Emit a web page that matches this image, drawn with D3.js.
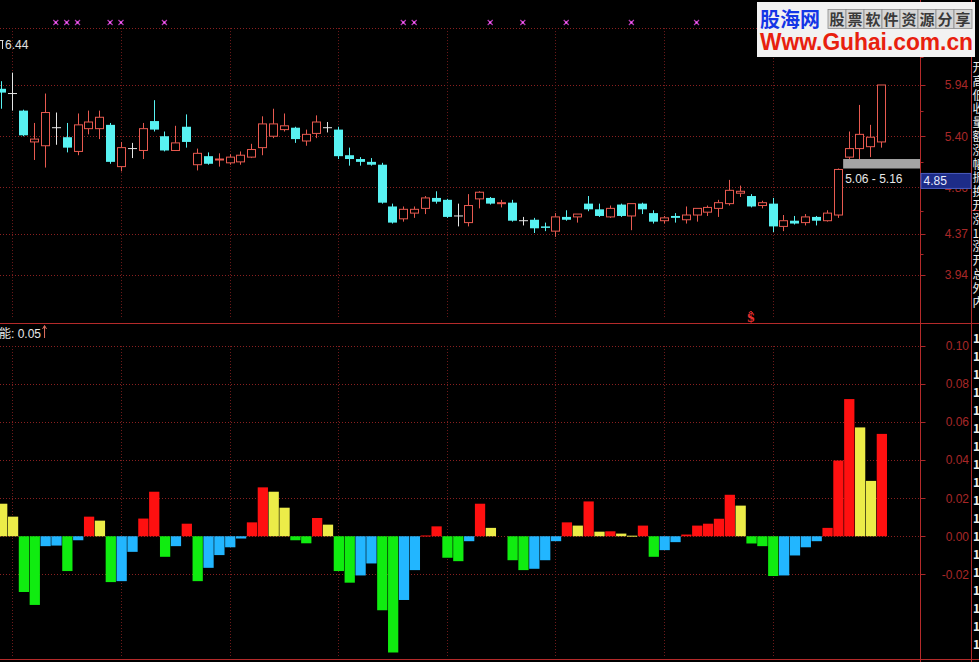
<!DOCTYPE html>
<html><head><meta charset="utf-8">
<script src="https://cdn.jsdelivr.net/npm/d3@7"></script>
<style>html,body{margin:0;padding:0;background:#000;overflow:hidden}svg{display:block}</style>
</head><body>
<svg id="c" width="979" height="662"></svg>
<script>
// ---------- data ----------
const opens  = [5.90,5.85,5.67,5.34,5.30,5.49,5.39,5.24,5.48,5.48, 5.52,5.08,5.27,5.25,5.56,5.40,5.25,5.50,5.10,5.19,
                5.15,5.12,5.13,5.18,5.28,5.40,5.47,5.49,5.35,5.43, 5.49,5.47,5.20,5.16,5.13,5.10,4.66,4.53,4.59,4.64,
                4.75,4.73,4.56,4.49,4.74,4.75,4.69,4.70,4.51,4.52, 4.45,4.40,4.55,4.55,4.69,4.63,4.55,4.68,4.56,4.69,
                4.59,4.51,4.56,4.52,4.57,4.60,4.64,4.69,4.80,4.77, 4.67,4.69,4.45,4.51,4.49,4.55,4.51,4.57,5.18,5.27,
                5.29,5.34];
const highs  = [5.98,6.07,5.68,5.54,5.85,5.65,5.54,5.64,5.67,5.67, 5.54,5.34,5.33,5.54,5.78,5.45,5.51,5.63,5.27,5.23,
                5.22,5.21,5.24,5.32,5.61,5.69,5.64,5.50,5.47,5.62, 5.55,5.50,5.28,5.18,5.17,5.12,4.69,4.66,4.66,4.77,
                4.82,4.74,4.69,4.79,4.82,4.76,4.73,4.73,4.55,4.54, 4.49,4.59,4.62,4.58,4.77,4.69,4.67,4.69,4.69,4.70,
                4.62,4.56,4.59,4.66,4.64,4.67,4.73,4.94,4.88,4.79, 4.72,4.75,4.57,4.56,4.58,4.56,4.62,5.06,5.45,5.73,
                5.52,5.94];
const lows   = [5.69,5.67,5.40,5.15,5.07,5.31,5.23,5.20,5.42,5.37, 5.11,5.03,5.17,5.16,5.45,5.24,5.25,5.28,5.04,5.10,
                5.08,5.10,5.10,5.17,5.20,5.38,5.45,5.33,5.30,5.38, 5.44,5.16,5.09,5.09,5.09,4.69,4.48,4.50,4.54,4.58,
                4.69,4.54,4.45,4.45,4.64,4.68,4.65,4.50,4.46,4.38, 4.40,4.34,4.51,4.49,4.61,4.55,4.54,4.55,4.41,4.58,
                4.48,4.48,4.49,4.48,4.50,4.56,4.55,4.67,4.76,4.65, 4.64,4.39,4.40,4.47,4.46,4.46,4.50,4.54,5.16,5.15,
                5.18,5.28];
const closes = [5.86,5.85,5.41,5.37,5.65,5.49,5.28,5.52,5.55,5.60, 5.13,5.28,5.27,5.48,5.47,5.25,5.33,5.34,5.22,5.11,
                5.16,5.18,5.20,5.26,5.53,5.53,5.51,5.37,5.42,5.55, 5.49,5.19,5.16,5.13,5.10,4.70,4.49,4.63,4.63,4.75,
                4.71,4.55,4.56,4.67,4.81,4.69,4.70,4.51,4.51,4.43, 4.44,4.55,4.52,4.58,4.63,4.56,4.64,4.56,4.69,4.63,
                4.50,4.54,4.54,4.57,4.64,4.65,4.70,4.83,4.82,4.66, 4.70,4.45,4.51,4.48,4.55,4.51,4.59,5.05,5.27,5.42,
                5.39,5.94];
const energy = [0.0171,0.0103,-0.0293,-0.0361,-0.0052,-0.0049,-0.0183,-0.0021,0.0103,0.0082,
                -0.0241,-0.0236,-0.0082,0.0093,0.0234,-0.0108,-0.0052,0.0066,-0.0236,-0.0166,
                -0.0099,-0.0058,-0.0012,0.0073,0.0257,0.0234,0.0150,-0.0021,-0.0037,0.0096,
                0.0061,-0.0183,-0.0244,-0.0206,-0.0143,-0.0389,-0.0611,-0.0335,-0.0178,0.0004,
                0.0052,-0.0113,-0.0131,-0.0026,0.0171,0.0044,0.0000,-0.0126,-0.0178,-0.0171,
                -0.0126,-0.0026,0.0073,0.0056,0.0183,0.0024,0.0026,0.0014,0.0003,0.0056,
                -0.0108,-0.0073,-0.0031,0.0009,0.0056,0.0066,0.0092,0.0218,0.0161,-0.0038,
                -0.0052,-0.0209,-0.0206,-0.0101,-0.0058,-0.0026,0.0044,0.0398,0.0721,0.0572,
                0.0291,0.0538];
const energyKinds = ("YYGGBBGBRY"+"GBBRRGBRGB"+"BBBRRYYGGR"+"YGGBBGGBBR"+"RGGBRYYGGB"+
                     "BBRYRYRYYR"+"GBBRRRRRYG"+"GGBBBBRRRY"+"YR").split("");
const markIdx = [5,6,7,10,11,15,37,38,45,48,52,58,64];
const gridIdx = [1,11,21,31,41,51,61,71];
const priceGrid = [6.54,5.94,5.40,4.86,4.37,3.94];
const priceLabels = [5.94,5.40,4.86,4.37,3.94];
const energyTicks = [0.10,0.08,0.06,0.04,0.02,0.00,-0.02];
const gapRange = [5.06,5.16];
const lastPrice = 4.85;
const maxPrice = 6.44;
const energyNow = 0.05;
const signalIdx = 69;
const sideTop = ["开","高","低","收","量","额","涨","幅","振","换","开","涨","1","涨","开","总","外","内"];
const sideBottom = ["1","1","1","1","1","1","1","1","1","1","1","1","1","1","1","1","1","1"];

// ---------- setup ----------
const svg = d3.select("#c");
const N = opens.length;
const x = d3.scaleBand().domain(d3.range(N)).range([-3.93, 886.59]);
const bw = x.bandwidth();
const cx = k => x(k) + bw/2;
const yP = d3.scaleLinear().domain([3.94, 5.94]).range([274.8, 85]);
const yE = d3.scaleLinear().domain([-0.02, 0.10]).range([574.3, 346]);
const AX = 920.5;
const GRID = "#8a2020";
const FONT = "'Liberation Sans', Arial, 'Noto Sans CJK SC', sans-serif";
const kindColor = {R:"#ff1010", Y:"#ecec48", G:"#10ec10", B:"#22b6ff"};
const UP = "#e85a50", DOWN = "#58f2f2", DOJI = "#e6e6e6";

svg.append("rect").attr("width",979).attr("height",662).attr("fill","#000");

// ---------- grids ----------
const g = svg.append("g");
g.selectAll(".hp").data(priceGrid).join("line")
  .attr("x1",0).attr("x2",AX).attr("y1",d=>Math.round(yP(d))+0.5).attr("y2",d=>Math.round(yP(d))+0.5)
  .attr("stroke",GRID).attr("stroke-dasharray","1,2");
g.selectAll(".he").data(energyTicks).join("line")
  .attr("x1",0).attr("x2",AX).attr("y1",d=>Math.round(yE(d))+0.5).attr("y2",d=>Math.round(yE(d))+0.5)
  .attr("stroke",GRID).attr("stroke-dasharray","1,2");
g.selectAll(".vp").data(gridIdx).join("line")
  .attr("x1",d=>Math.round(cx(d))+0.5).attr("x2",d=>Math.round(cx(d))+0.5)
  .attr("y1",yP(6.54)).attr("y2",318).attr("stroke","#6e1a1a").attr("stroke-dasharray","1,2");
g.selectAll(".ve").data(gridIdx).join("line")
  .attr("x1",d=>Math.round(cx(d))+0.5).attr("x2",d=>Math.round(cx(d))+0.5)
  .attr("y1",yE(0.10)).attr("y2",656).attr("stroke","#6e1a1a").attr("stroke-dasharray","1,2");

// ---------- energy bars ----------
svg.append("g").selectAll("rect").data(energy).join("rect")
  .attr("x",(d,i)=>x(i)+1)
  .attr("width",bw-0.6)
  .attr("y",d=>Math.min(yE(d),yE(0)))
  .attr("height",d=> d===0 ? 0 : Math.max(1, Math.abs(yE(d)-yE(0))))
  .attr("fill",(d,i)=>kindColor[energyKinds[i]]);

// ---------- candles ----------
const cg = svg.append("g");
d3.range(N).forEach(k=>{
  const o=opens[k], c=closes[k], h=highs[k], l=lows[k];
  const X = Math.round(cx(k)) + 0.5;
  const half = 4;
  if (c > o) {
    cg.append("line").attr("x1",X).attr("x2",X).attr("y1",yP(h)).attr("y2",yP(c)).attr("stroke",UP);
    cg.append("line").attr("x1",X).attr("x2",X).attr("y1",yP(o)).attr("y2",yP(l)).attr("stroke",UP);
    cg.append("rect").attr("x",X-half).attr("y",yP(c)).attr("width",half*2).attr("height",Math.max(1,yP(o)-yP(c)))
      .attr("fill","#000").attr("stroke",UP);
  } else if (c < o) {
    cg.append("line").attr("x1",X).attr("x2",X).attr("y1",yP(h)).attr("y2",yP(l)).attr("stroke",DOWN);
    cg.append("rect").attr("x",X-half-0.5).attr("y",yP(o)).attr("width",half*2+1).attr("height",Math.max(1.5,yP(c)-yP(o)))
      .attr("fill",DOWN);
  } else {
    cg.append("line").attr("x1",X).attr("x2",X).attr("y1",yP(h)).attr("y2",yP(l)).attr("stroke",DOJI);
    cg.append("line").attr("x1",X-half-0.5).attr("x2",X+half+0.5).attr("y1",yP(o)).attr("y2",yP(o)).attr("stroke",DOJI);
  }
});

// gap band
svg.append("rect").attr("x",x(78)).attr("y",yP(gapRange[1])).attr("width",AX-x(78))
  .attr("height",yP(gapRange[0])-yP(gapRange[1])).attr("fill","#a4a4a4");
svg.append("text").attr("x",x(78)+2).attr("y",yP(gapRange[0])+14).attr("fill","#e8e8e8")
  .attr("font-family",FONT).attr("font-size",12).text(gapRange[0].toFixed(2)+" - "+gapRange[1].toFixed(2));

// signal marks (magenta crosses)
const mg = svg.append("g");
markIdx.forEach(k=>{
  const X = cx(k), Y = 22.5;
  mg.append("path").attr("d",`M${X-2.5},${Y-2.5}L${X+2.5},${Y+2.5}M${X+2.5},${Y-2.5}L${X-2.5},${Y+2.5}`)
    .attr("stroke","#b838b8").attr("stroke-width",1.2);
  mg.append("rect").attr("x",X-1).attr("y",Y-1).attr("width",2).attr("height",2).attr("fill","#ff66ff");
});

// "$" marker
svg.append("text").attr("x",cx(signalIdx)).attr("y",322).attr("text-anchor","middle")
  .attr("fill","#e83030").attr("font-weight","bold").attr("font-size",12)
  .attr("font-family","'DejaVu Serif', serif").text("$");
svg.append("path").attr("d",`M${cx(signalIdx)-2},${313}L${cx(signalIdx)},${311}L${cx(signalIdx)+2},${313}`)
  .attr("stroke","#e83030").attr("fill","none");

// max price note top-left
svg.append("path").attr("d","M0,40.5H3.5M2.5,40V49").attr("stroke","#d8d8d8");
svg.append("text").attr("x",5).attr("y",48.5).attr("fill","#e0e0e0").attr("font-family",FONT)
  .attr("font-size",12).text(maxPrice.toFixed(2));

// energy title
const tt = svg.append("text").attr("x",-1).attr("y",337.5).attr("fill","#e8e8e8")
  .attr("font-family",FONT).attr("font-size",12).text("能: "+energyNow.toFixed(2));
const tw = tt.node().getComputedTextLength();
svg.append("path").attr("d",`M${tw+2.5},338V326M${tw+0.5},329L${tw+2.5},325.5L${tw+4.5},329`)
  .attr("stroke","#e07060").attr("fill","none");

// ---------- frame / axes ----------
const LINE = "#b42a2a";
svg.append("line").attr("x1",0).attr("x2",979).attr("y1",323.5).attr("y2",323.5).attr("stroke",LINE);
svg.append("line").attr("x1",0).attr("x2",979).attr("y1",659.5).attr("y2",659.5).attr("stroke",LINE);
svg.append("line").attr("x1",AX).attr("x2",AX).attr("y1",0).attr("y2",662).attr("stroke",LINE);
svg.append("line").attr("x1",971.5).attr("x2",971.5).attr("y1",0).attr("y2",662).attr("stroke",LINE);
svg.append("line").attr("x1",971.5).attr("x2",979).attr("y1",210.5).attr("y2",210.5).attr("stroke",LINE);

const AXC = "#a82828";
const ag = svg.append("g").attr("font-family",FONT).attr("font-size",12).attr("fill",AXC);
priceGrid.forEach(v=>{
  ag.append("line").attr("x1",AX).attr("x2",AX+5).attr("y1",Math.round(yP(v))+0.5).attr("y2",Math.round(yP(v))+0.5).attr("stroke",AXC);
});
priceLabels.forEach(v=>{
  ag.append("text").attr("x",968).attr("y",yP(v)).attr("dy","0.36em").attr("text-anchor","end").text(v.toFixed(2));
});
d3.range(priceGrid.length-1).forEach(i=>{
  const m = (yP(priceGrid[i])+yP(priceGrid[i+1]))/2;
  ag.append("line").attr("x1",AX).attr("x2",AX+3).attr("y1",Math.round(m)+0.5).attr("y2",Math.round(m)+0.5).attr("stroke",AXC);
});
energyTicks.forEach(v=>{
  ag.append("line").attr("x1",AX).attr("x2",AX+5).attr("y1",Math.round(yE(v))+0.5).attr("y2",Math.round(yE(v))+0.5).attr("stroke",AXC);
  ag.append("text").attr("x",969).attr("y",yE(v)).attr("dy","0.36em").attr("text-anchor","end").text(v.toFixed(2));
});

// last price box
svg.append("rect").attr("x",AX+0.5).attr("y",yP(lastPrice)-15).attr("width",50).attr("height",15)
  .attr("fill","#1d2c88").attr("stroke","#4a5cc0");
svg.append("text").attr("x",AX+3).attr("y",yP(lastPrice)-3).attr("fill","#e8ecff")
  .attr("font-family",FONT).attr("font-size",12).text(lastPrice.toFixed(2));

// right clipped info column
const sg = svg.append("g").attr("fill","#f0f0f0").attr("font-family","'Noto Sans CJK SC', sans-serif").attr("font-size",12);
sideTop.forEach((t,i)=> sg.append("text").attr("x",972.5).attr("y",72+i*13.8).text(t));
sideBottom.forEach((t,i)=> sg.append("text").attr("x",973).attr("y",343+i*18).attr("font-weight","bold").text(t));

// ---------- watermark ----------
const wm = svg.append("g");
wm.append("rect").attr("x",757).attr("y",2).attr("width",218).attr("height",55).attr("fill","#f2f2f2");
wm.append("text").attr("x",760).attr("y",27).attr("fill","#1436e6").attr("font-weight","bold")
  .attr("font-family","'Noto Sans CJK SC', sans-serif").attr("font-size",20)
  .attr("textLength",60).attr("lengthAdjust","spacingAndGlyphs").text("股海网");
const cells = "股票软件资源分享".split("");
cells.forEach((ch,i)=>{
  wm.append("rect").attr("x",828+i*18).attr("y",9.5).attr("width",18).attr("height",19)
    .attr("fill","#d6d6d6").attr("stroke","#8a8a8a").attr("stroke-width",0.8);
  wm.append("text").attr("x",828+i*18+9).attr("y",25).attr("text-anchor","middle").attr("fill","#3a3a3a")
    .attr("font-family","'Noto Sans CJK SC', sans-serif").attr("font-size",15).attr("font-weight","bold").text(ch);
});
wm.append("text").attr("x",760).attr("y",50).attr("fill","#e8200e").attr("font-weight","bold")
  .attr("font-family","'Liberation Sans', Arial, sans-serif").attr("font-size",23)
  .attr("textLength",213).attr("lengthAdjust","spacingAndGlyphs").text("Www.Guhai.com.cn");
</script>
</body></html>
